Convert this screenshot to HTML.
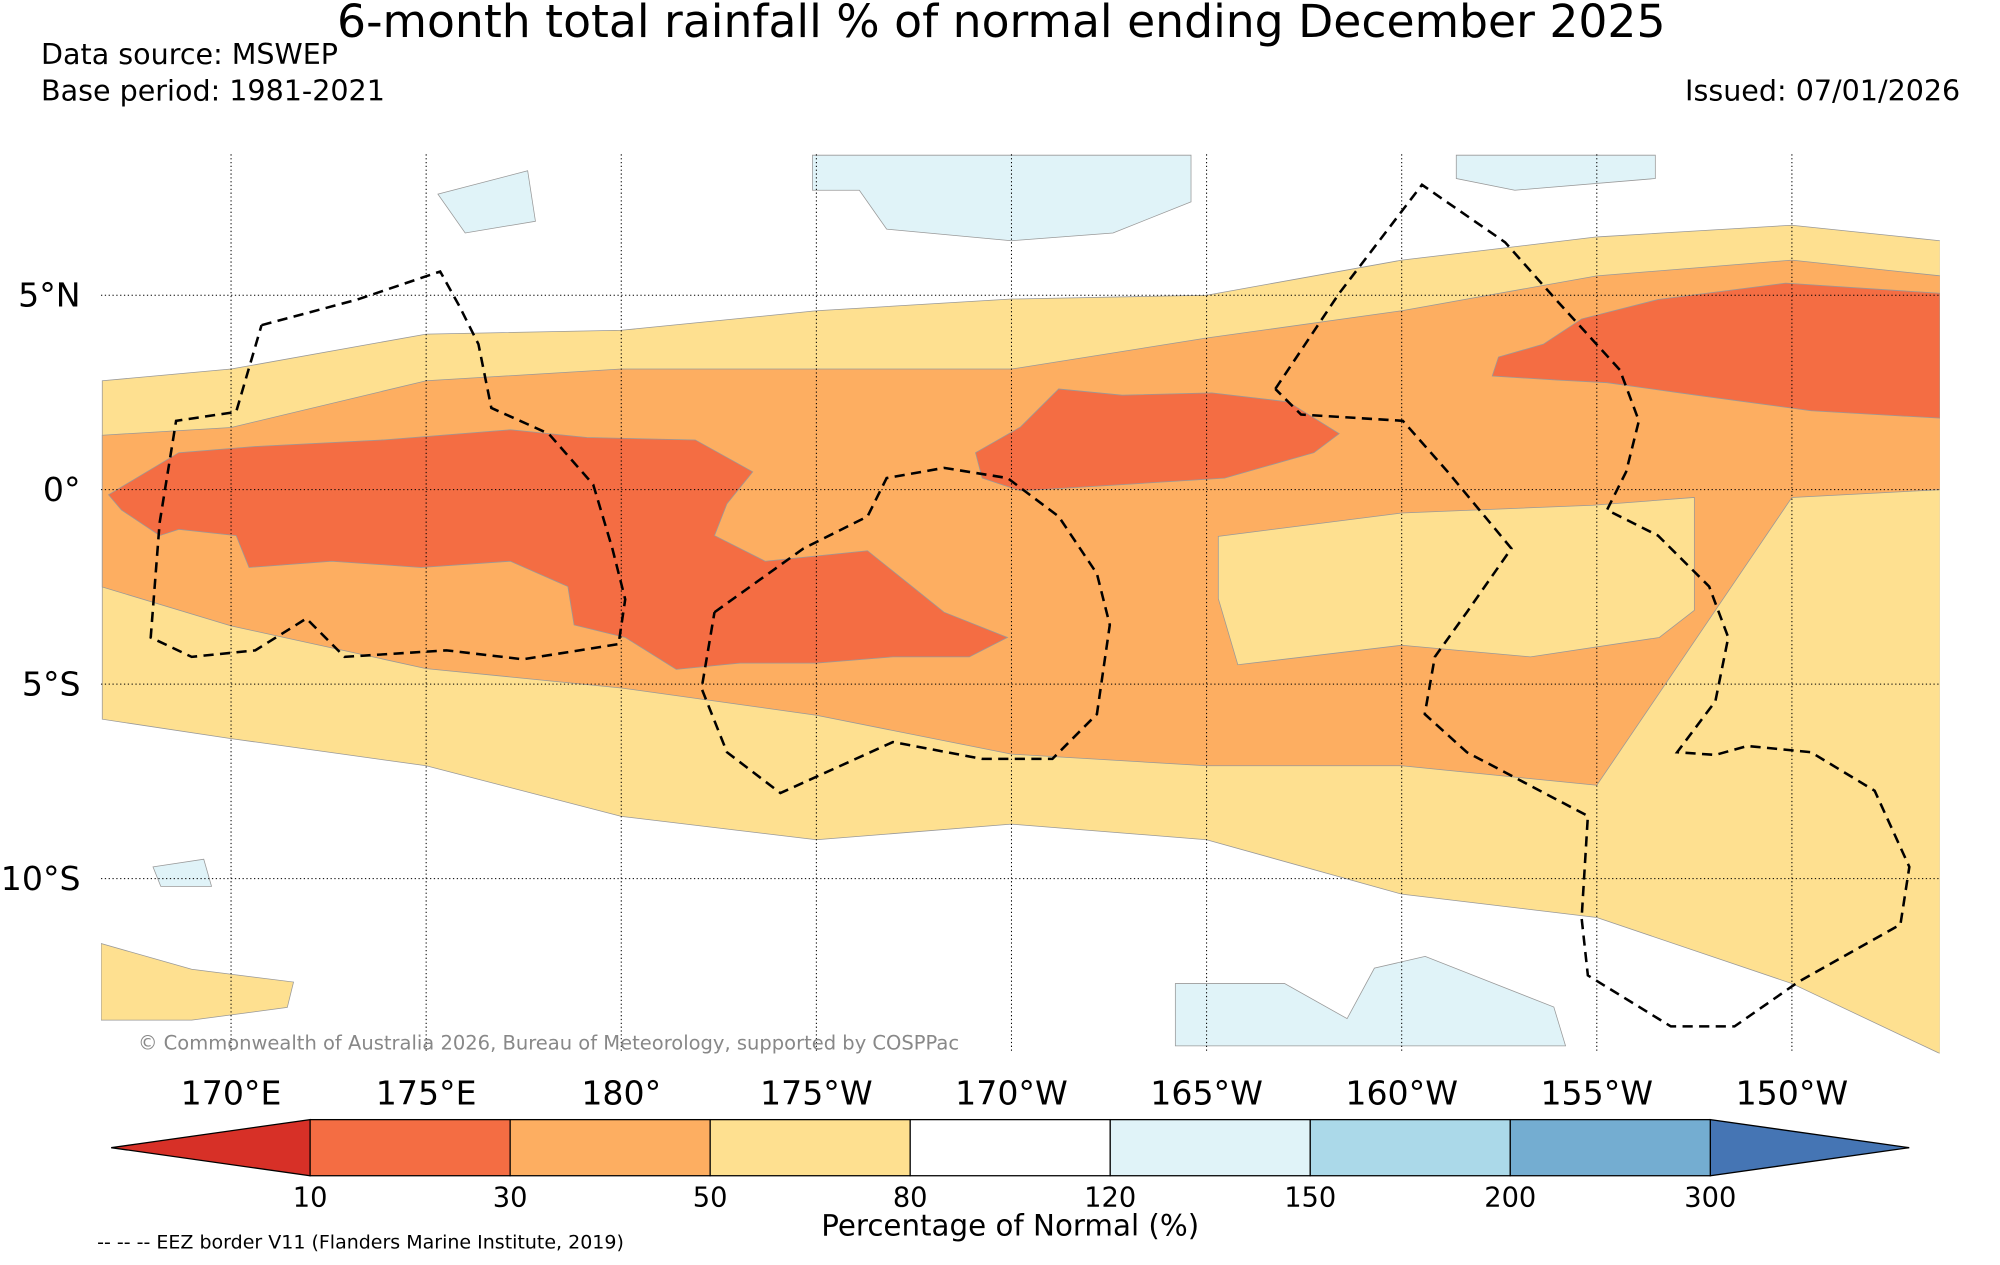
<!DOCTYPE html>
<html><head><meta charset="utf-8">
<style>
html,body{margin:0;padding:0;background:#fff;}
svg{display:block;font-family:"DejaVu Sans","Liberation Sans",sans-serif;}
</style></head>
<body>
<svg id="chart" width="2000" height="1265" viewBox="0 0 1568 992" xmlns="http://www.w3.org/2000/svg">
<defs><clipPath id="mapclip"><rect x="79" y="121" width="1442" height="705"/></clipPath></defs>
<text x="785" y="29" font-size="35.8" text-anchor="middle">6-month total rainfall % of normal ending December 2025</text>
<text x="32" y="50" font-size="22.4">Data source: MSWEP</text>
<text x="32" y="79" font-size="22.4">Base period: 1981-2021</text>
<text x="1537" y="79" font-size="22.4" text-anchor="end">Issued: 07/01/2026</text>
<g id="map" clip-path="url(#mapclip)"></g>
<g id="grid"></g>
<g id="eez" clip-path="url(#mapclip)"></g>
<text x="108" y="823" font-size="15.3" fill="#888">© Commonwealth of Australia 2026, Bureau of Meteorology, supported by COSPPac</text>
<g id="axes"></g>
<g id="cbar"></g>
<text x="792" y="969" font-size="23" text-anchor="middle">Percentage of Normal (%)</text>
<text x="76" y="979" font-size="14.9">-- -- -- EEZ border V11 (Flanders Marine Institute, 2019)</text>
</svg>
<script>
// ---- data ----
const bandLons = [166.7,170,175,180,185,190,195,200,205,210,213.8];
const yellowN = [2.8,3.1,4.0,4.1,4.6,4.9,5.0,5.9,6.5,6.8,6.4];
const yellowS = [-5.9,-6.4,-7.1,-8.4,-9.0,-8.6,-9.0,-10.4,-11.0,-12.7,-14.5];
const orangeN = [1.4,1.6,2.8,3.1,3.1,3.1,3.9,4.6,5.5,5.9,5.5];
const orangeS = [-2.5,-3.5,-4.6,-5.1,-5.8,-6.8,-7.1,-7.1,-7.6,-0.2,0];
const yellowPatchEast = [[195.3,-1.2],[200.0,-0.6],[204.9,-0.4],[207.5,-0.2],[207.5,-3.1],[206.6,-3.8],[203.3,-4.3],[200.0,-4.0],[195.8,-4.5],[195.3,-2.8]];
const yellowPatchSW = [[166.67,-11.67],[168.99,-12.33],[171.6,-12.66],[171.44,-13.31],[168.99,-13.64],[166.67,-13.64]];
const redWest = [[166.86,-0.13],[168.66,0.95],[170.62,1.11],[173.89,1.28],[177.16,1.54],[179.12,1.34],[181.9,1.28],[183.37,0.46],[182.71,-0.36],[182.39,-1.18],[183.69,-1.84],[186.31,-1.57],[187.45,-2.49],[188.27,-3.15],[189.9,-3.8],[188.92,-4.3],[186.96,-4.3],[185.0,-4.46],[183.04,-4.46],[181.41,-4.62],[180.1,-3.8],[178.79,-3.48],[178.63,-2.49],[177.16,-1.84],[174.87,-2.0],[172.58,-1.84],[170.46,-2.0],[170.13,-1.18],[168.66,-1.02],[168.17,-1.18],[167.19,-0.52]];
const redCentral = [[189.08,0.95],[190.23,1.61],[191.21,2.59],[192.84,2.43],[195.13,2.49],[197.09,2.26],[198.4,1.44],[197.75,0.95],[195.46,0.3],[192.84,0.13],[190.23,-0.03],[189.25,0.3]];
const redEast = [[203.63,3.74],[204.61,4.39],[206.57,4.89],[209.84,5.31],[213.79,5.05],[213.79,1.84],[210.49,2.03],[207.55,2.43],[205.26,2.75],[203.95,2.82],[202.32,2.92],[202.48,3.41]];
const bluePatches = [
 [[184.9,8.6],[194.6,8.6],[194.6,7.4],[192.6,6.6],[190.0,6.4],[186.8,6.7],[186.1,7.7],[184.9,7.7]],
 [[201.4,8.6],[206.5,8.6],[206.5,8.0],[202.9,7.7],[201.4,8.0]],
 [[175.3,7.6],[177.6,8.2],[177.8,6.9],[176.0,6.6]],
 [[194.2,-12.7],[197.0,-12.7],[198.6,-13.6],[199.3,-12.3],[200.6,-12.0],[203.9,-13.3],[204.2,-14.3],[194.2,-14.3]],
 [[168.0,-9.7],[169.3,-9.5],[169.5,-10.2],[168.2,-10.2]]
];
const eezA = [[170.78,4.23],[173.24,4.89],[175.36,5.61],[175.85,4.72],[176.34,3.74],[176.67,2.1],[178.14,1.44],[179.28,0.13],[179.77,-1.51],[180.1,-2.82],[179.93,-3.97],[177.48,-4.36],[175.52,-4.13],[172.91,-4.3],[171.93,-3.31],[170.62,-4.13],[168.99,-4.3],[167.94,-3.8],[168.17,-0.85],[168.59,1.77],[170.13,2.0],[170.78,4.23]];
const eezB = [[182.39,-3.15],[184.67,-1.51],[186.31,-0.69],[186.8,0.3],[188.27,0.56],[189.9,0.3],[191.21,-0.69],[192.19,-2.16],[192.52,-3.48],[192.19,-5.77],[191.05,-6.92],[189.25,-6.92],[186.96,-6.49],[184.08,-7.8],[182.71,-6.75],[182.06,-5.11],[182.39,-3.15]];
const eezC = [[196.76,2.59],[198.4,5.05],[200.52,7.84],[202.65,6.36],[203.95,4.89],[205.59,3.08],[206.08,1.77],[205.75,0.46],[205.26,-0.52],[206.57,-1.18],[207.88,-2.49],[208.37,-3.8],[208.04,-5.44],[207.06,-6.75],[208.04,-6.82],[208.86,-6.59],[210.49,-6.75],[212.12,-7.74],[213.01,-9.7],[212.78,-11.18],[210.16,-12.66],[208.53,-13.8],[206.9,-13.8],[204.77,-12.49],[204.61,-11.02],[204.77,-8.39],[201.67,-6.75],[200.59,-5.77],[200.85,-4.3],[201.67,-3.15],[202.81,-1.51],[201.18,0.46],[200.03,1.77],[197.42,1.93],[196.76,2.59]];
const lonTicks = [170,175,180,185,190,195,200,205,210];
const lonLabels = ["170°E","175°E","180°","175°W","170°W","165°W","160°W","155°W","150°W"];
const latTicks = [5,0,-5,-10];
const latLabels = ["5°N","0°","5°S","10°S"];
const cbarLabels = ["10","30","50","80","120","150","200","300"];
const cbarColors = ["#f46d43","#fdae61","#fee090","#ffffff","#e0f3f8","#abd9e9","#74add1"];
// ---- projection ----
const NS = "http://www.w3.org/2000/svg";
function px(lon){return 487+(lon-180)*30.6;}
function py(lat){return 384-lat*30.5;}
function pts(arr){return arr.map(p=>px(p[0]).toFixed(1)+","+py(p[1]).toFixed(1)).join(" ");}
function mk(tag,attrs,parent){const e=document.createElementNS(NS,tag);for(const k in attrs)e.setAttribute(k,attrs[k]);parent.appendChild(e);return e;}
const map=document.getElementById('map');
function band(N,S){const a=bandLons.map((l,i)=>[l,N[i]]);const b=bandLons.map((l,i)=>[l,S[i]]).reverse();return a.concat(b);}
let e;
e=mk('polygon',{points:pts(band(yellowN,yellowS)),fill:'#fee090',stroke:'#999','stroke-width':0.6},map);


e=mk('polygon',{points:pts(yellowPatchSW),fill:'#fee090',stroke:'#999','stroke-width':0.6},map);


e=mk('polygon',{points:pts(band(orangeN,orangeS)),fill:'#fdae61',stroke:'#999','stroke-width':0.6},map);


e=mk('polygon',{points:pts(yellowPatchEast),fill:'#fee090',stroke:'#999','stroke-width':0.6},map);


[redWest,redCentral,redEast].forEach((r,i)=>{
  const el=mk('polygon',{points:pts(r),fill:'#f46d43',stroke:'#999','stroke-width':0.6},map);
  
  
});
bluePatches.forEach((b,i)=>{
  const el=mk('polygon',{points:pts(b),fill:'#e0f3f8',stroke:'#999','stroke-width':0.6},map);
  
  
});
const eez=document.getElementById('eez');
[eezA,eezB,eezC].forEach(b=>{
  const el=mk('polyline',{points:pts(b),fill:'none',stroke:'#000','stroke-width':2,'stroke-dasharray':'8,5'},eez);
  
  
});
const grid=document.getElementById('grid'), axes=document.getElementById('axes');
lonTicks.forEach((l,i)=>{
  const x=px(l);
  const g=mk('line',{x1:x,x2:x,y1:121,y2:826,stroke:'#000','stroke-width':0.8,'stroke-dasharray':'1,2'},grid);
  
  
  const t=mk('text',{x:x,y:866,'font-size':26,'text-anchor':'middle'},axes);t.textContent=lonLabels[i];
  
  
});
latTicks.forEach((l,i)=>{
  const y=py(l);
  const g=mk('line',{x1:79,x2:1521,y1:y,y2:y,stroke:'#000','stroke-width':0.8,'stroke-dasharray':'1,2'},grid);
  
  
  const t=mk('text',{x:63,y:y+9,'font-size':26,'text-anchor':'end'},axes);t.textContent=latLabels[i];
  
  
});
const cb=document.getElementById('cbar');
const cx0=243, cx1=1341, cy0=878, cy1=922, seg=(cx1-cx0)/cbarColors.length;
e=mk('polygon',{points:`87,900 ${cx0},${cy0} ${cx0},${cy1}`,fill:'#d73027',stroke:'#000','stroke-width':1},cb);


e=mk('polygon',{points:`1497,900 ${cx1},${cy0} ${cx1},${cy1}`,fill:'#4575b4',stroke:'#000','stroke-width':1},cb);


cbarColors.forEach((c,i)=>{
  const r=mk('rect',{x:cx0+i*seg,y:cy0,width:seg,height:cy1-cy0,fill:c,stroke:'#000','stroke-width':1},cb);
  
  
});
cbarLabels.forEach((l,i)=>{
  const t=mk('text',{x:cx0+i*seg,y:946,'font-size':21.4,'text-anchor':'middle'},cb);t.textContent=l;
  
  
});
</script>
</body></html>
